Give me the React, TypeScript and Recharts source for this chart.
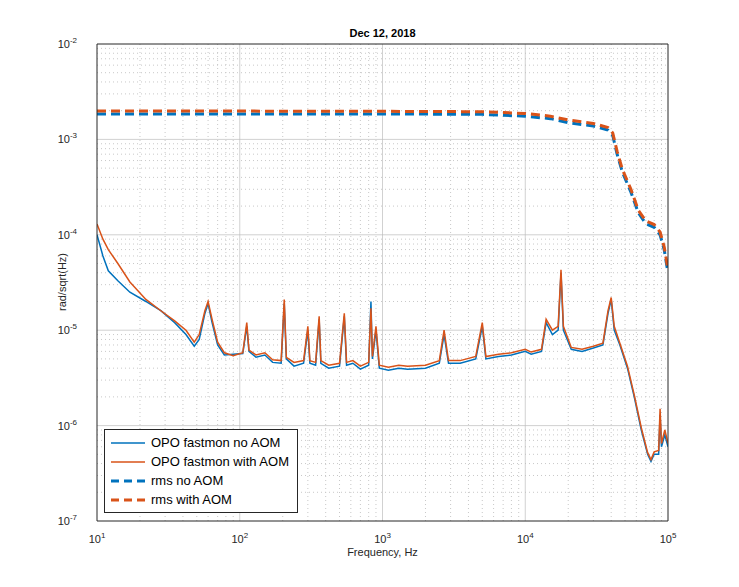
import React from 'react';
import { LineChart, Line, XAxis, YAxis, ReferenceLine } from 'recharts';

const fastNoAom: [number, number][] = [
  [10, 1e-4], [11, 6e-5], [12, 4.2e-5], [14, 3.3e-5], [17, 2.5e-5], [22, 2e-5], [28, 1.6e-5], [35, 1.2e-5],
  [42, 9e-6], [48, 6.8e-6], [52, 8e-6], [57, 1.5e-5], [60, 1.9e-5], [64, 1.2e-5], [70, 7e-6], [78, 5.5e-6],
  [90, 5.6e-6], [105, 5.7e-6], [112, 1.1e-5], [116, 6e-6], [130, 5.2e-6], [150, 5.5e-6], [170, 4.6e-6],
  [195, 4.5e-6], [205, 1.9e-5], [212, 5e-6], [240, 4.2e-6], [280, 4.5e-6], [300, 1e-5], [310, 4.5e-6],
  [340, 4.3e-6], [360, 1.3e-5], [370, 4.5e-6], [420, 4e-6], [500, 4.2e-6], [540, 1.4e-5], [560, 4.3e-6],
  [620, 4.5e-6], [700, 3.9e-6], [800, 4.3e-6], [830, 2e-5], [850, 5e-6], [900, 1e-5], [950, 4e-6],
  [1100, 3.8e-6], [1300, 4e-6], [1500, 3.9e-6], [2000, 4e-6], [2500, 4.5e-6], [2700, 9e-6], [2900, 4.5e-6],
  [3500, 4.5e-6], [4500, 5e-6], [5000, 1.1e-5], [5300, 5e-6], [6500, 5.3e-6], [8000, 5.5e-6], [10000, 6e-6],
  [11000, 5.6e-6], [13000, 6e-6], [14000, 1.2e-5], [15500, 9e-6], [17000, 1e-5], [17800, 4e-5], [18500, 1e-5],
  [21000, 6.3e-6], [25000, 6e-6], [30000, 6.5e-6], [35000, 7e-6], [38000, 1.5e-5], [40000, 2.1e-5],
  [42000, 1e-5], [46000, 7e-6], [52000, 4e-6], [58000, 2e-6], [65000, 9e-7], [72000, 5e-7], [76000, 4.2e-7],
  [80000, 5e-7], [86000, 5e-7], [88000, 1.3e-6], [90000, 6e-7], [95000, 8e-7], [100000, 6e-7],
];

const fastWithAom: [number, number][] = [
  [10, 1.3e-4], [11, 9e-5], [12, 7e-5], [14, 5e-5], [17, 3.2e-5], [22, 2.1e-5], [28, 1.6e-5], [35, 1.25e-5],
  [42, 1e-5], [48, 7.5e-6], [52, 9e-6], [57, 1.6e-5], [60, 2e-5], [64, 1.3e-5], [70, 7.5e-6], [78, 5.8e-6],
  [90, 5.4e-6], [105, 5.8e-6], [112, 1.2e-5], [116, 6.2e-6], [130, 5.5e-6], [150, 5.8e-6], [170, 4.9e-6],
  [195, 4.8e-6], [205, 2.1e-5], [212, 5.2e-6], [240, 4.6e-6], [280, 4.8e-6], [300, 1.1e-5], [310, 4.8e-6],
  [340, 4.6e-6], [360, 1.4e-5], [370, 4.8e-6], [420, 4.3e-6], [500, 4.5e-6], [540, 1.5e-5], [560, 4.6e-6],
  [620, 4.8e-6], [700, 4.2e-6], [800, 4.6e-6], [830, 1.7e-5], [850, 5.3e-6], [900, 1.1e-5], [950, 4.3e-6],
  [1100, 4.1e-6], [1300, 4.3e-6], [1500, 4.2e-6], [2000, 4.3e-6], [2500, 4.8e-6], [2700, 1e-5], [2900, 4.8e-6],
  [3500, 4.8e-6], [4500, 5.3e-6], [5000, 1.2e-5], [5300, 5.3e-6], [6500, 5.6e-6], [8000, 5.8e-6], [10000, 6.3e-6],
  [11000, 5.9e-6], [13000, 6.3e-6], [14000, 1.3e-5], [15500, 1e-5], [17000, 1.1e-5], [17800, 4.3e-5], [18500, 1.1e-5],
  [21000, 6.6e-6], [25000, 6.3e-6], [30000, 6.8e-6], [35000, 7.3e-6], [38000, 1.6e-5], [40000, 2.2e-5],
  [42000, 1.1e-5], [46000, 7.3e-6], [52000, 4.2e-6], [58000, 2.1e-6], [65000, 9.5e-7], [72000, 5.2e-7], [76000, 4.4e-7],
  [80000, 5.3e-7], [86000, 5.5e-7], [88000, 1.5e-6], [90000, 6.5e-7], [95000, 9e-7], [100000, 6.5e-7],
];

const rmsNoAom: [number, number][] = [
  [10, 1.85e-3], [100, 1.85e-3], [1000, 1.85e-3], [5000, 1.83e-3], [10000, 1.75e-3], [15000, 1.65e-3],
  [20000, 1.5e-3], [30000, 1.38e-3], [38000, 1.25e-3], [41000, 1.1e-3], [44000, 7e-4], [48000, 4.5e-4],
  [55000, 2.8e-4], [62000, 1.7e-4], [70000, 1.3e-4], [80000, 1.2e-4], [88000, 1e-4], [94000, 7e-5], [100000, 4e-5],
];

const rmsWithAom: [number, number][] = [
  [10, 1.98e-3], [100, 1.98e-3], [1000, 1.97e-3], [5000, 1.95e-3], [10000, 1.87e-3], [15000, 1.75e-3],
  [20000, 1.6e-3], [30000, 1.47e-3], [38000, 1.33e-3], [41000, 1.17e-3], [44000, 7.5e-4], [48000, 4.8e-4],
  [55000, 3e-4], [62000, 1.8e-4], [70000, 1.4e-4], [80000, 1.28e-4], [88000, 1.07e-4], [94000, 7.5e-5], [100000, 4.3e-5],
];

const xTicks = [10, 100, 1000, 10000, 100000];
const yTicks = [1e-7, 1e-6, 1e-5, 1e-4, 1e-3, 1e-2];

const BLUE = '#0072BD';
const ORANGE = '#D95319';
const FONT = '"Liberation Sans", Arial, sans-serif';

const toRows = (pts: [number, number][]) => pts.map(([f, v]) => ({ f, v }));

const minor = (start: number, end: number) => {
  const out: number[] = [];
  for (let d = start; d < end * 0.99; d *= 10) for (let k = 2; k <= 9; k++) out.push(d * k);
  return out;
};
const xMinor = minor(10, 100000);
const yMinor = minor(1e-7, 1e-2);

const PowTick = (props: any) => {
  const { x, y, payload, axis } = props;
  const exp = Math.round(Math.log10(payload.value));
  if (axis === 'x') {
    return (
      <text x={x} y={y + 14} textAnchor="middle" fontSize={11} fill="#262626" fontFamily={FONT}>
        <tspan>10</tspan>
        <tspan dy={-5} fontSize={8}>{exp}</tspan>
      </text>
    );
  }
  return (
    <text x={x - 12} y={y + 4} textAnchor="end" fontSize={11} fill="#262626" fontFamily={FONT}>
      <tspan>10</tspan>
      <tspan dy={-5} fontSize={8}>{exp}</tspan>
    </text>
  );
};

const legendItems = [
  { label: 'OPO fastmon no AOM', color: BLUE, dash: false },
  { label: 'OPO fastmon with AOM', color: ORANGE, dash: false },
  { label: 'rms no AOM', color: BLUE, dash: true },
  { label: 'rms with AOM', color: ORANGE, dash: true },
];

export default function App() {
  return (
    <div style={{ position: 'absolute', left: 0, top: 0, width: 739, height: 587, background: '#fff', fontFamily: FONT }}>
      <div style={{ position: 'absolute', top: 27, left: 97, width: 571, textAlign: 'center', fontWeight: 'bold', fontSize: 11, color: '#000' }}>
        Dec 12, 2018
      </div>
      <div style={{ position: 'absolute', top: 546, left: 97, width: 571, textAlign: 'center', fontSize: 11, color: '#262626' }}>
        Frequency, Hz
      </div>
      <div style={{ position: 'absolute', left: 62, top: 282, transform: 'translate(-50%,-50%) rotate(-90deg)', fontSize: 11, color: '#262626', whiteSpace: 'nowrap' }}>
        rad/sqrt(Hz)
      </div>
      <LineChart width={739} height={587} margin={{ top: 44, right: 71, bottom: 36, left: 37 }} style={{ position: 'absolute', left: 0, top: 0 }}>
        <XAxis type="number" dataKey="f" scale="log" domain={[10, 100000]} ticks={xTicks} allowDataOverflow
          tick={(p: any) => <PowTick {...p} axis="x" />} tickLine={false} axisLine={false} height={30} />
        <YAxis type="number" scale="log" domain={[1e-7, 1e-2]} ticks={yTicks} allowDataOverflow
          tick={(p: any) => <PowTick {...p} axis="y" />} tickLine={false} axisLine={false} width={60} />
        {xMinor.map((v) => <ReferenceLine key={'xm' + v} x={v} stroke="#c8c8c8" strokeDasharray="1 3" />)}
        {yMinor.map((v) => <ReferenceLine key={'ym' + v} y={v} stroke="#c8c8c8" strokeDasharray="1 3" />)}
        {xTicks.slice(1, -1).map((v) => <ReferenceLine key={'xM' + v} x={v} stroke="#bdbdbd" strokeWidth={0.7} />)}
        {yTicks.slice(1, -1).map((v) => <ReferenceLine key={'yM' + v} y={v} stroke="#bdbdbd" strokeWidth={0.7} />)}
        <Line data={toRows(fastNoAom)} dataKey="v" stroke={BLUE} strokeWidth={1.5} dot={false} isAnimationActive={false} type="linear" />
        <Line data={toRows(fastWithAom)} dataKey="v" stroke={ORANGE} strokeWidth={1.5} dot={false} isAnimationActive={false} type="linear" />
        <Line data={toRows(rmsNoAom)} dataKey="v" stroke={BLUE} strokeWidth={3} strokeDasharray="9 5" dot={false} isAnimationActive={false} type="linear" />
        <Line data={toRows(rmsWithAom)} dataKey="v" stroke={ORANGE} strokeWidth={3} strokeDasharray="9 5" dot={false} isAnimationActive={false} type="linear" />
        <ReferenceLine x={10} stroke="#262626" />
        <ReferenceLine x={100000} stroke="#262626" />
        <ReferenceLine y={1e-7} stroke="#262626" />
        <ReferenceLine y={1e-2} stroke="#262626" />
      </LineChart>
      <div style={{ position: 'absolute', left: 104, top: 429, border: '1px solid #262626', background: '#fff', padding: '3px 8px 3px 4px', fontSize: 13 }}>
        {legendItems.map((it) => (
          <div key={it.label} style={{ display: 'flex', alignItems: 'center', height: 19 }}>
            <svg width={38} height={10} style={{ marginRight: 4 }}>
              <line x1={2} y1={5} x2={36} y2={5} stroke={it.color} strokeWidth={it.dash ? 3 : 1.5} strokeDasharray={it.dash ? '8 5' : undefined} />
            </svg>
            <span>{it.label}</span>
          </div>
        ))}
      </div>
    </div>
  );
}
